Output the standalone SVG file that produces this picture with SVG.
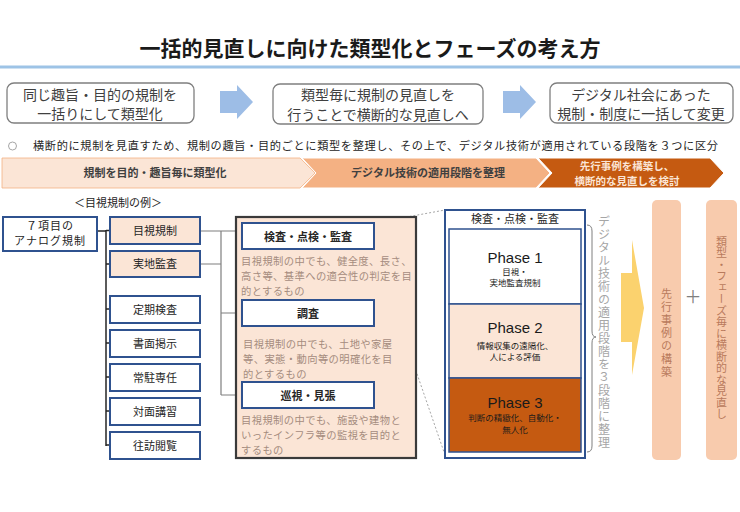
<svg xmlns="http://www.w3.org/2000/svg" width="740" height="512" viewBox="0 0 740 512">
<style>
text{font-family:"Noto Sans CJK JP","Noto Sans",sans-serif;}
.c{text-anchor:middle;}
.top{font-size:14px;fill:#404040;}
.tbox{fill:#fff;stroke:#7f7f7f;stroke-width:1.3;}
.barrow{fill:#9dbde6;}
.chev{font-size:11px;font-weight:bold;fill:#404040;}
.nb{fill:#fff;stroke:#2f528f;stroke-width:2;}
.nbp{fill:#fbe5d6;stroke:#2f528f;stroke-width:2;}
.nt{font-size:11px;fill:#262626;font-weight:bold;}
.desc{font-size:10.3px;fill:#a58c7e;letter-spacing:0.4px;}
.tree{stroke:#262626;stroke-width:1.5;fill:none;}
.treeg{stroke:#7f7f7f;stroke-width:1.2;fill:none;}
.ph{font-family:"Liberation Sans","Noto Sans",sans-serif;font-size:15px;text-anchor:middle;fill:#1a1a1a;}
.phs{font-size:8.5px;text-anchor:middle;fill:#1a1a1a;}
.vt{writing-mode:vertical-rl;text-anchor:middle;}
</style>

<!-- title -->
<g id="title">
<text x="370" y="56" class="c" style="font-size:21px;font-weight:bold;fill:#1a1a1a;">一括的見直しに向けた類型化とフェーズの考え方</text>
<rect x="0" y="65.5" width="740" height="3" fill="#9dc3e6"/>
</g>

<!-- top flow -->
<g id="step1">
<rect class="tbox" x="7" y="83" width="187" height="40" rx="7"/>
<text class="top c" x="100" y="99.5">同じ趣旨・目的の規制を</text>
<text class="top c" x="100" y="119">一括りにして類型化</text>
</g>
<g id="step2">
<rect class="tbox" x="273" y="84" width="210" height="40" rx="7"/>
<text class="top c" x="378" y="100">類型毎に規制の見直しを</text>
<text class="top c" x="378" y="119.5">行うことで横断的な見直しへ</text>
</g>
<g id="step3">
<rect class="tbox" x="550" y="83" width="183" height="40" rx="7"/>
<text class="top c" x="641" y="99.5">デジタル社会にあった</text>
<text class="top c" x="641" y="119">規制・制度に一括して変更</text>
</g>
<g id="flow-arrows">
<polygon class="barrow" points="220,91 237,91 237,85 253,102 237,119 237,113 220,113"/>
<polygon class="barrow" points="503,91 520,91 520,85 536,102 520,119 520,113 503,113"/>
</g>

<!-- bullet -->
<g id="bullet">
<circle cx="12.5" cy="146" r="4" fill="none" stroke="#a6a6a6" stroke-width="1"/>
<text x="33" y="150" style="font-size:11.2px;fill:#262626;" textLength="685" lengthAdjust="spacing">横断的に規制を見直すため、規制の趣旨・目的ごとに類型を整理し、その上で、デジタル技術が適用されている段階を３つに区分</text>
</g>

<!-- chevrons -->
<g id="chevron1">
<polygon points="2,158 300,158 315,173 300,188 2,188" fill="#fbe5d6" stroke="#f4b183" stroke-width="0.8"/>
<text class="chev c" x="155" y="177">規制を目的・趣旨毎に類型化</text>
</g>
<g id="chevron2">
<polygon points="302,158 536,158 550,173 536,188 302,188 316,173" fill="#f4b183" stroke="#fff" stroke-width="1"/>
<text class="chev c" x="428" y="177">デジタル技術の適用段階を整理</text>
</g>
<g id="chevron3">
<polygon points="538,158 710,158 724,173 710,188 538,188 552,173" fill="#c55a11" stroke="#fff" stroke-width="1"/>
<text class="chev c" x="627" y="170" style="fill:#fbe5d6;font-size:10.5px;">先行事例を構築し、</text>
<text class="chev c" x="627" y="184.5" style="fill:#fbe5d6;font-size:10.5px;">横断的な見直しを検討</text>
</g>

<text x="118" y="207" class="c" style="font-size:11px;fill:#262626;">＜目視規制の例＞</text>

<!-- connectors -->
<g id="connectors">
<path class="tree" d="M97,231 H106 M106,230 V446 M106,230.5 H110 M106,264 H110 M106,309 H110 M106,343 H110 M106,377 H110 M106,411 H110 M106,445 H110"/>
<path class="treeg" d="M200,231 H242 M200,264 H221 M221,231 V395 M221,313 H242 M221,395 H242"/>
<path d="M374,223 L445,210 M374,249 L445,455" stroke="#a6a6a6" stroke-width="1" stroke-dasharray="2,2" fill="none"/>
</g>

<!-- left tree nodes -->
<g id="n-analog">
<rect class="nb" x="3" y="217" width="94" height="34"/>
<text class="nt c" x="50" y="230" style="font-weight:normal;letter-spacing:1px;">７項目の</text>
<text class="nt c" x="50" y="245" style="font-weight:normal;letter-spacing:1px;">アナログ規制</text>
</g>
<g id="n-mokushi"><rect class="nbp" x="110" y="217" width="90" height="27"/><text class="nt c" x="155" y="234.5" style="font-weight:normal;">目視規制</text></g>
<g id="n-jitchi"><rect class="nbp" x="110" y="251" width="90" height="26"/><text class="nt c" x="155" y="268" style="font-weight:normal;">実地監査</text></g>
<g id="n-teiki"><rect class="nb" x="110" y="296" width="90" height="27"/><text class="nt c" x="155" y="313.5" style="font-weight:normal;">定期検査</text></g>
<g id="n-shomen"><rect class="nb" x="110" y="330" width="90" height="27"/><text class="nt c" x="155" y="347.5" style="font-weight:normal;">書面掲示</text></g>
<g id="n-jochu"><rect class="nb" x="110" y="364" width="90" height="27"/><text class="nt c" x="155" y="381.5" style="font-weight:normal;">常駐専任</text></g>
<g id="n-taimen"><rect class="nb" x="110" y="398" width="90" height="27"/><text class="nt c" x="155" y="415.5" style="font-weight:normal;">対面講習</text></g>
<g id="n-oho"><rect class="nb" x="110" y="432" width="90" height="27"/><text class="nt c" x="155" y="449.5" style="font-weight:normal;">往訪閲覧</text></g>

<!-- big peach box -->
<g id="n-detail">
<rect x="236" y="217" width="180" height="241" fill="#fbe5d6" stroke="#3a3a3a" stroke-width="2.2"/>
</g>
<g id="n-kensa">
<rect class="nb" x="242" y="223" width="132" height="26"/>
<text class="nt c" x="308" y="240.5">検査・点検・監査</text>
<text class="desc" x="241" y="265">目視規制の中でも、健全度、長さ、</text>
<text class="desc" x="241" y="280">高さ等、基準への適合性の判定を目</text>
<text class="desc" x="241" y="295">的とするもの</text>
</g>
<g id="n-chosa">
<rect class="nb" x="242" y="300" width="132" height="26"/>
<text class="nt c" x="308" y="317.5">調査</text>
<text class="desc" x="243" y="348">目視規制の中でも、土地や家屋</text>
<text class="desc" x="243" y="363">等、実態・動向等の明確化を目</text>
<text class="desc" x="243" y="378">的とするもの</text>
</g>
<g id="n-junshi">
<rect class="nb" x="242" y="382" width="132" height="26"/>
<text class="nt c" x="308" y="399.5">巡視・見張</text>
<text class="desc" x="241" y="424">目視規制の中でも、施設や建物と</text>
<text class="desc" x="241" y="439">いったインフラ等の監視を目的と</text>
<text class="desc" x="241" y="454">するもの</text>
</g>

<!-- phase box -->
<g id="n-phases">
<rect x="445" y="210" width="140" height="248" fill="#fff" stroke="#2f528f" stroke-width="2"/>
<text class="nt c" x="515" y="223" style="font-weight:normal;">検査・点検・監査</text>
</g>
<g id="n-phase1">
<rect x="449" y="229" width="132" height="75" fill="#fff" stroke="#2f528f" stroke-width="1.5"/>
<text class="ph" x="515" y="263">Phase 1</text>
<text class="phs" x="515" y="275">目視・</text>
<text class="phs" x="515" y="286">実地監査規制</text>
</g>
<g id="n-phase2">
<rect x="449" y="304" width="132" height="74" fill="#fbe5d6" stroke="#2f528f" stroke-width="1.5"/>
<text class="ph" x="515" y="333">Phase 2</text>
<text class="phs" x="515" y="348.5">情報収集の遠隔化、</text>
<text class="phs" x="515" y="359.5">人による評価</text>
</g>
<g id="n-phase3">
<rect x="449" y="378" width="132" height="74" fill="#c55a11" stroke="#2f528f" stroke-width="1.5"/>
<text class="ph" x="515" y="408">Phase 3</text>
<text class="phs" x="515" y="421">判断の精緻化、自動化・</text>
<text class="phs" x="515" y="433">無人化</text>
</g>

<!-- brace and vertical label -->
<g id="n-brace">
<path d="M587,225 Q592,225 592,231 V331 Q592,337 596,337 Q592,337 592,343 V446 Q592,452 587,452" fill="none" stroke="#7f7f7f" stroke-width="1"/>
<text class="vt" x="604" y="332" style="font-size:12px;fill:#a6a6a6;letter-spacing:1px;">デジタル技術の適用段階を３段階に整理</text>
</g>

<!-- yellow arrow -->
<g id="n-yarrow">
<polygon points="621,273 632,273 632,240 644,308 632,375 632,342 621,342" fill="#fbd26e"/>
</g>

<!-- right columns -->
<g id="n-senko">
<rect x="652" y="200" width="29" height="260" rx="5" fill="#f8cbad"/>
<text class="vt" x="666.5" y="334" style="font-size:11px;fill:#b87a5c;letter-spacing:2px;">先行事例の構築</text>
</g>
<text x="693" y="303" class="c" style="font-size:17px;fill:#7f7f7f;">＋</text>
<g id="n-minaoshi">
<rect x="706" y="200" width="31" height="260" rx="5" fill="#f8cbad"/>
<text class="vt" x="721.5" y="328" style="font-size:11px;fill:#b87a5c;letter-spacing:0.5px;">類型・フェーズ毎に横断的な見直し</text>
</g>
</svg>
